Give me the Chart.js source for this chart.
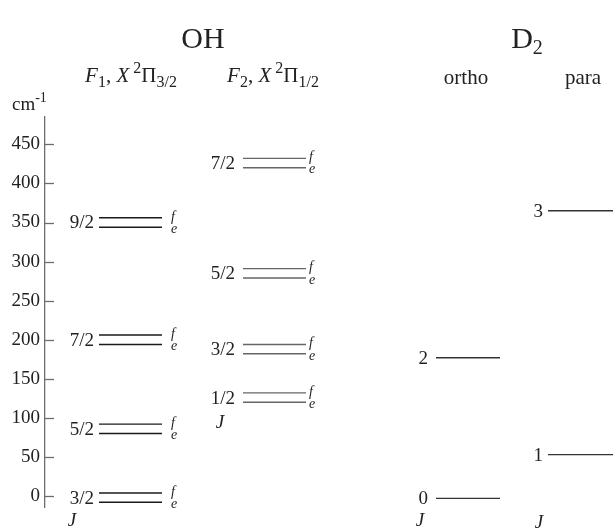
<!DOCTYPE html>
<html>
<head>
<meta charset="utf-8">
<script src="https://cdn.jsdelivr.net/npm/chart.js@4.4.1/dist/chart.umd.min.js"></script>
<style>
  html, body { margin: 0; padding: 0; background: #fff; }
  #wrap { width: 616px; height: 529px; }
</style>
</head>
<body>
<div id="wrap"><canvas id="levels"></canvas></div>
<script>
// OH, F1 (X 2Pi 3/2) rotational levels in cm-1, f upper / e lower component
var f1J = ["3/2", "5/2", "7/2", "9/2"];
var f1F = [4, 92, 206, 356];
var f1E = [-8, 80, 194, 344];
// OH, F2 (X 2Pi 1/2)
var f2J = ["1/2", "3/2", "5/2", "7/2"];
var f2F = [132, 194, 291, 432];
var f2E = [120, 182, 279, 420];
// D2 ortho / para
var orthoJ = ["0", "2"];
var orthoE = [-3, 177];
var paraJ = ["1", "3"];
var paraE = [53, 365];
// energy axis
var yTicks = [0, 50, 100, 150, 200, 250, 300, 350, 400, 450];

var SERIF = "'Liberation Serif', 'Times New Roman', serif";
var TXT = "#222";

// column layout (x in scale units, from the axis)
var columns = [
  { J: f1J, up: f1F, lo: f1E, x0: 54, x1: 117, gap: 5, fe: 126, color: "#1a1a1a" },
  { J: f2J, up: f2F, lo: f2E, x0: 198, x1: 261, gap: 8, fe: 264, color: "#666" },
  { J: orthoJ, up: orthoE, lo: null, x0: 391, x1: 455, gap: 8, color: "#333" },
  { J: paraJ, up: paraE, lo: null, x0: 503, x1: 568, gap: 5, color: "#333" }
];
// "J" captions: x in scale units, y in cm-1
var jCaps = [[27, -32], [175, 94], [375, -32], [494, -35]];

var datasets = [];
columns.forEach(function (c) {
  c.up.forEach(function (v, i) {
    datasets.push({ data: [{ x: c.x0, y: v }, { x: c.x1, y: v }], borderColor: c.color });
    if (c.lo) {
      datasets.push({ data: [{ x: c.x0, y: c.lo[i] }, { x: c.x1, y: c.lo[i] }], borderColor: c.color });
    }
  });
});

function drawRuns(ctx, x, y, runs, align) {
  var w = 0;
  runs.forEach(function (r) {
    ctx.font = (r.it ? "italic " : "") + r.size + "px " + SERIF;
    r.w = ctx.measureText(r.t).width;
    w += r.w;
  });
  var cx = align === "center" ? x - w / 2 : x;
  runs.forEach(function (r) {
    ctx.font = (r.it ? "italic " : "") + r.size + "px " + SERIF;
    ctx.fillText(r.t, cx, y + (r.dy || 0));
    cx += r.w;
  });
}

var textPlugin = {
  id: "levelText",
  afterDraw: function (chart) {
    var ctx = chart.ctx, xs = chart.scales.x, ys = chart.scales.y, area = chart.chartArea;
    ctx.save();
    // tick marks pointing into the plot
    ctx.strokeStyle = "#6e6e6e";
    ctx.lineWidth = 1.3;
    ys.ticks.forEach(function (t) {
      var py = Math.round(ys.getPixelForValue(t.value)) + 0.5;
      ctx.beginPath();
      ctx.moveTo(area.left, py);
      ctx.lineTo(area.left + 9, py);
      ctx.stroke();
    });

    ctx.fillStyle = TXT;
    ctx.textBaseline = "alphabetic";
    ctx.textAlign = "left";
    // titles
    drawRuns(ctx, 203, 48, [{ t: "OH", size: 30 }], "center");
    drawRuns(ctx, 527, 48, [{ t: "D", size: 30 }, { t: "2", size: 20, dy: 6 }], "center");
    drawRuns(ctx, 131, 82, [
      { t: "F", size: 21, it: true }, { t: "1", size: 16, dy: 5 }, { t: ", ", size: 21 },
      { t: "X", size: 21, it: true }, { t: " 2", size: 16, dy: -9 }, { t: "\u03A0", size: 21 },
      { t: "3/2", size: 16, dy: 5 }], "center");
    drawRuns(ctx, 273, 82, [
      { t: "F", size: 21, it: true }, { t: "2", size: 16, dy: 5 }, { t: ", ", size: 21 },
      { t: "X", size: 21, it: true }, { t: " 2", size: 16, dy: -9 }, { t: "\u03A0", size: 21 },
      { t: "1/2", size: 16, dy: 5 }], "center");
    drawRuns(ctx, 466, 84, [{ t: "ortho", size: 21 }], "center");
    drawRuns(ctx, 583, 84, [{ t: "para", size: 21 }], "center");
    drawRuns(ctx, 12, 110, [{ t: "cm", size: 19 }, { t: "-1", size: 14, dy: -8 }], "left");

    // J labels and f / e tags
    columns.forEach(function (c) {
      c.up.forEach(function (v, i) {
        var pu = ys.getPixelForValue(v);
        var pl = c.lo ? ys.getPixelForValue(c.lo[i]) : pu;
        ctx.font = "19px " + SERIF;
        ctx.textAlign = "right";
        ctx.textBaseline = "middle";
        ctx.fillText(c.J[i], xs.getPixelForValue(c.x0) - c.gap, (pu + pl) / 2 + 1);
        if (c.lo) {
          ctx.textAlign = "left";
          ctx.font = "italic 14px " + SERIF;
          ctx.fillText("f", xs.getPixelForValue(c.fe), pu - 1);
          ctx.fillText("e", xs.getPixelForValue(c.fe), pl + 2);
        }
      });
    });
    ctx.font = "italic 19px " + SERIF;
    ctx.textAlign = "center";
    ctx.textBaseline = "middle";
    jCaps.forEach(function (p) {
      ctx.fillText("J", xs.getPixelForValue(p[0]), ys.getPixelForValue(p[1]));
    });
    ctx.restore();
  }
};

new Chart(document.getElementById("levels"), {
  type: "scatter",
  data: { datasets: datasets },
  options: {
    responsive: true,
    maintainAspectRatio: false,
    animation: false,
    showLine: true,
    elements: {
      point: { radius: 0, hoverRadius: 0 },
      line: { borderWidth: 1.4, tension: 0 }
    },
    layout: { padding: { top: 117, bottom: 22, left: 0, right: 0 } },
    plugins: { legend: { display: false }, tooltip: { enabled: false } },
    scales: {
      x: { type: "linear", min: 0, max: 571, display: false },
      y: {
        type: "linear",
        min: -14,
        max: 485,
        afterBuildTicks: function (s) {
          s.ticks = yTicks.map(function (v) { return { value: v }; });
        },
        afterFit: function (s) { s.width = 45; },
        grid: { drawOnChartArea: false, drawTicks: false },
        border: { display: true, color: "#6e6e6e", width: 1.3 },
        ticks: {
          padding: 5,
          color: TXT,
          font: { family: SERIF, size: 19 },
          callback: function (v) { return String(v); }
        }
      }
    }
  },
  plugins: [textPlugin]
});
</script>
</body>
</html>
